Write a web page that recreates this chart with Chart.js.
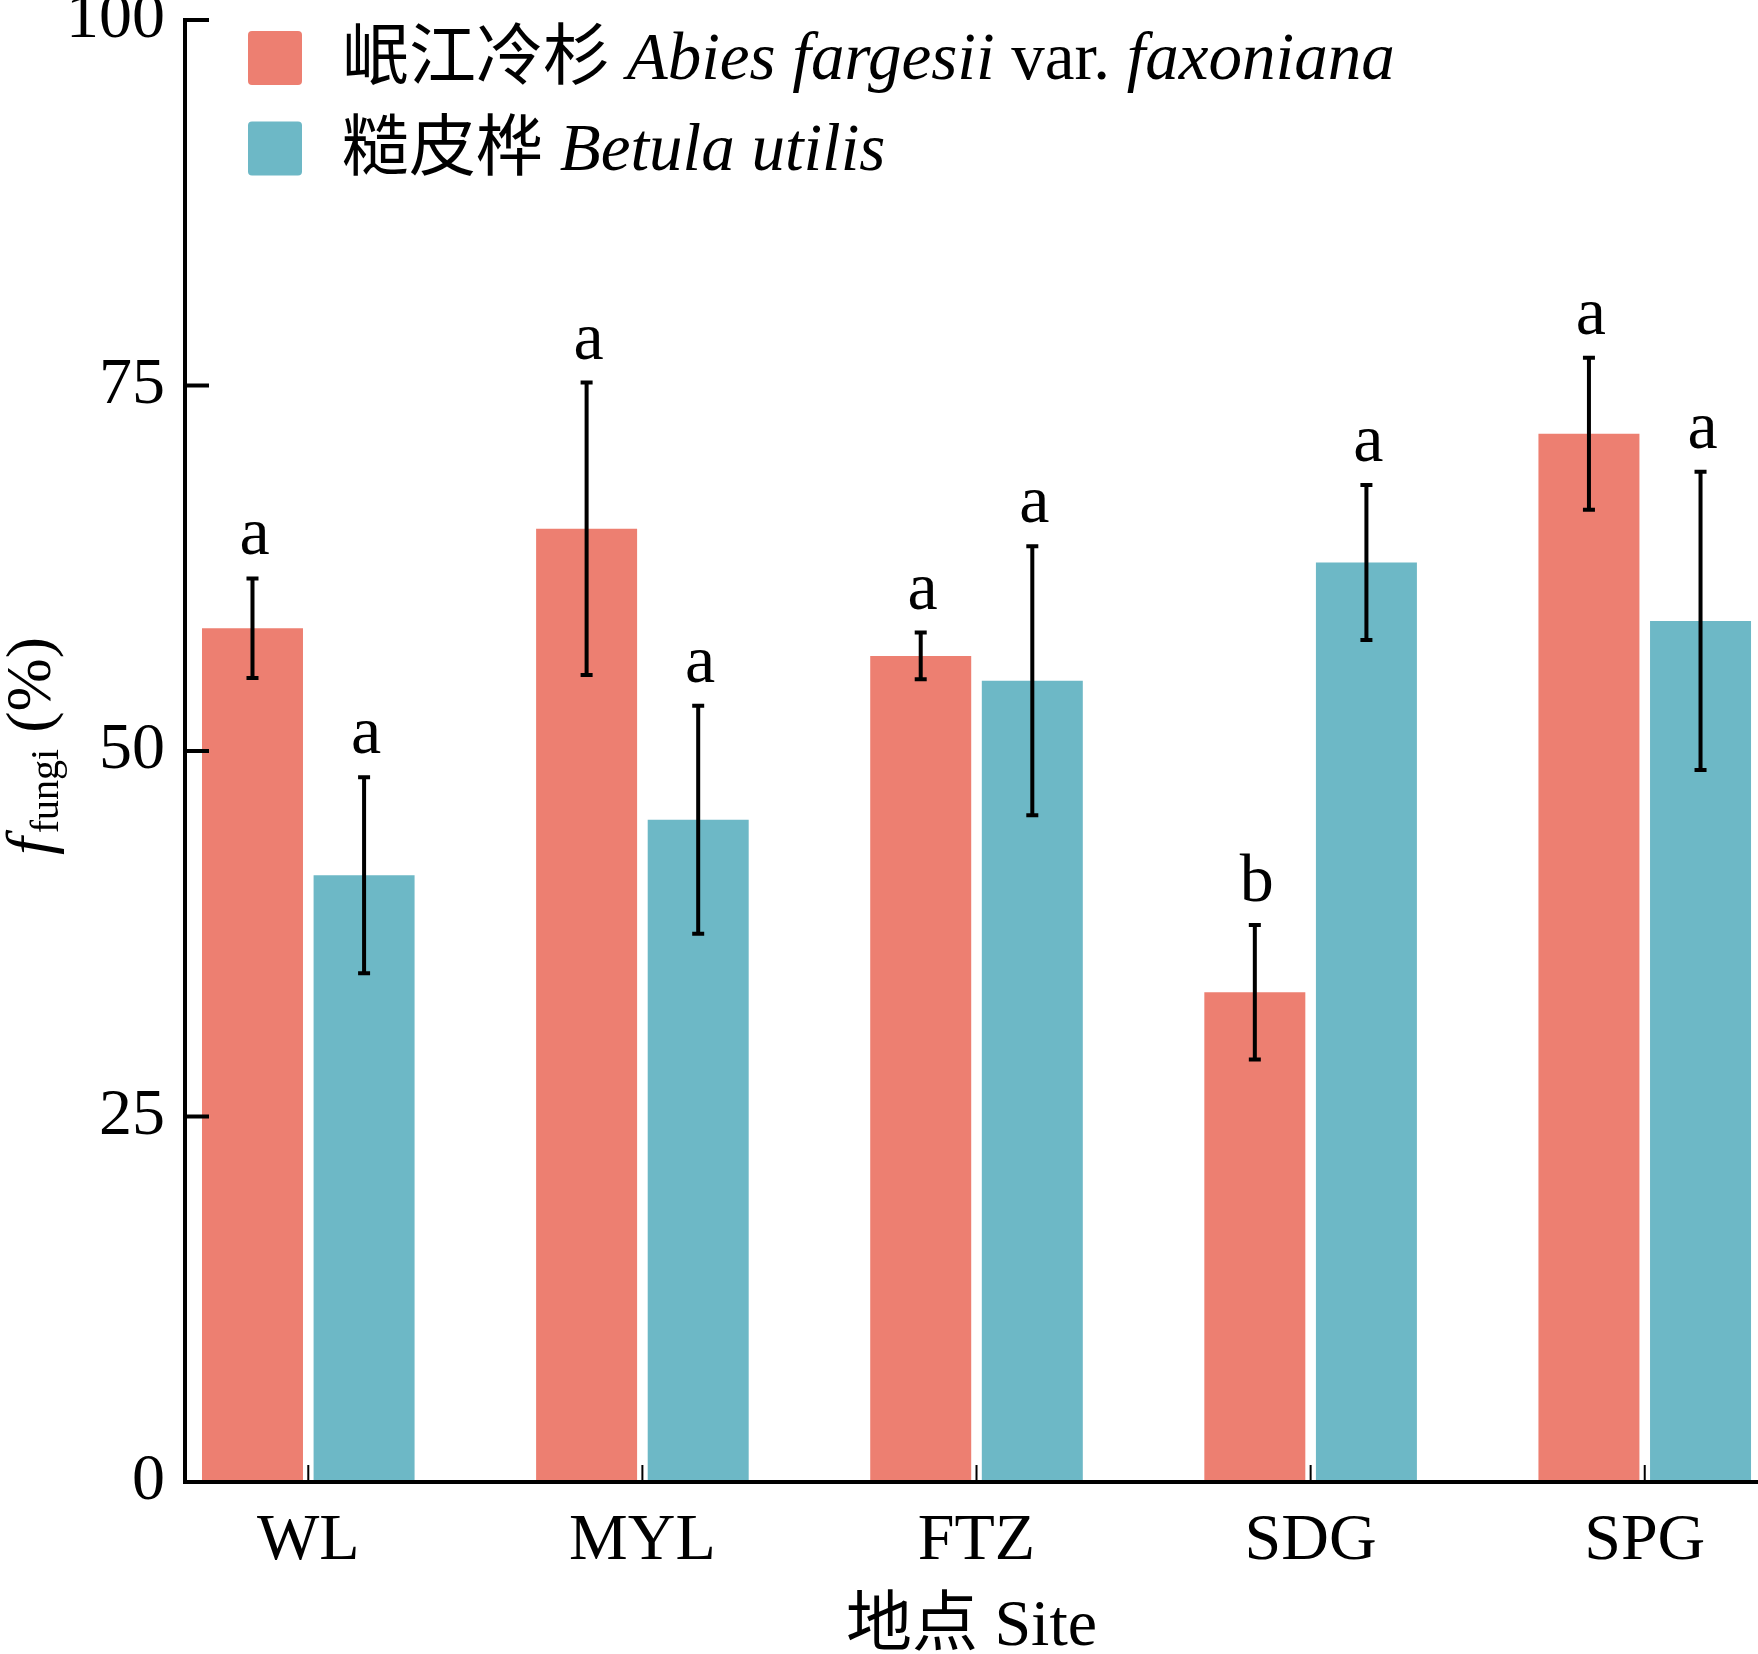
<!DOCTYPE html>
<html>
<head>
<meta charset="utf-8">
<script src="https://cdn.jsdelivr.net/npm/chart.js@4/dist/chart.umd.min.js"></script>
<style>
  html, body { margin: 0; padding: 0; background: #ffffff; }
  #wrap { width: 1758px; height: 1654px; position: relative; }
</style>
</head>
<body>
<div id="wrap"><canvas id="c"></canvas></div>
<script>
// ---------- data ----------
const sites = ['WL', 'MYL', 'FTZ', 'SDG', 'SPG'];
const abiesMean = [58.4, 65.2, 56.5, 33.5, 71.7];
const abiesErr = [3.4, 10.0, 1.6, 4.6, 5.2];
const betulaMean = [41.5, 45.3, 54.8, 62.9, 58.9];
const betulaErr = [6.7, 7.8, 9.2, 5.3, 10.2];
const abiesLetters = ['a', 'a', 'a', 'b', 'a'];
const betulaLetters = ['a', 'a', 'a', 'a', 'a'];
const yTicks = [0, 25, 50, 75, 100];
const seriesCN = ['岷江冷杉', '糙皮桦'];
const seriesLatin = [
  [['Abies fargesii', true], [' var. ', false], ['faxoniana', true]],
  [['Betula utilis', true]]
];
const xTitle = '地点 Site';
const yTitleMain = 'f';
const yTitleSub = 'fungi';
const yTitleUnit = ' (%)';

// ---------- style ----------
const FONT = '"Liberation Serif", "Times New Roman", "Noto Sans CJK SC", serif';
const COLORS = ['#ED7F71', '#6DB8C6'];
const FS = 66;

const toPoints = (arr) => arr.map((v, i) => ({ x: i, y: v }));
const means = [abiesMean, betulaMean];
const errs = [abiesErr, betulaErr];
const letters = [abiesLetters, betulaLetters];

const overlay = {
  id: 'overlay',
  afterDatasetsDraw(chart) {
    const ctx = chart.ctx;
    const xs = chart.scales.x, ys = chart.scales.y;
    ctx.save();
    // inward tick marks on y axis
    ctx.strokeStyle = '#000';
    ctx.lineWidth = 4;
    yTicks.forEach(v => {
      if (v === 0) return;
      const py = ys.getPixelForValue(v);
      ctx.beginPath();
      ctx.moveTo(xs.left, py);
      ctx.lineTo(xs.left + 24, py);
      ctx.stroke();
    });
    // inward tick marks on x axis
    ctx.lineWidth = 2;
    sites.forEach((s, i) => {
      const px = xs.getPixelForValue(i);
      ctx.beginPath();
      ctx.moveTo(px, ys.bottom);
      ctx.lineTo(px, ys.bottom - 17);
      ctx.stroke();
    });
    // error bars and letters
    for (let d = 0; d < 2; d++) {
      const meta = chart.getDatasetMeta(d);
      meta.data.forEach((bar, i) => {
        const cx = bar.x;
        const top = ys.getPixelForValue(means[d][i] + errs[d][i]);
        const bot = ys.getPixelForValue(means[d][i] - errs[d][i]);
        ctx.strokeStyle = '#000';
        ctx.lineWidth = 4;
        ctx.beginPath();
        ctx.moveTo(cx, top); ctx.lineTo(cx, bot);
        ctx.moveTo(cx - 6, top); ctx.lineTo(cx + 6, top);
        ctx.moveTo(cx - 6, bot); ctx.lineTo(cx + 6, bot);
        ctx.stroke();
        ctx.fillStyle = '#000';
        ctx.font = '68px ' + FONT;
        ctx.textAlign = 'center';
        ctx.textBaseline = 'alphabetic';
        ctx.fillText(letters[d][i], cx + 2, top - 24);
      });
    }
    ctx.restore();
  },
  afterDraw(chart) {
    const ctx = chart.ctx;
    const ys = chart.scales.y;
    ctx.save();
    // legend
    const rows = [79, 169.5];
    for (let d = 0; d < 2; d++) {
      ctx.fillStyle = COLORS[d];
      const sy = rows[d] - 48;
      ctx.beginPath();
      if (ctx.roundRect) ctx.roundRect(248, sy, 54, 54, 4); else ctx.rect(248, sy, 54, 54);
      ctx.fill();
      ctx.fillStyle = '#000';
      ctx.textAlign = 'left';
      ctx.textBaseline = 'alphabetic';
      let x = 342;
      const parts = [[seriesCN[d] + ' ', false]].concat(seriesLatin[d]);
      parts.forEach(([t, it]) => {
        ctx.font = (it ? 'italic ' : '') + '67px ' + FONT;
        ctx.fillText(t, x, rows[d]);
        x += ctx.measureText(t).width;
      });
    }
    // y title (rotated, with subscript)
    const cy = (ys.top + ys.bottom) / 2 - 5;
    ctx.translate(50, cy);
    ctx.rotate(-Math.PI / 2);
    const mainFont = 'italic 64px ' + FONT;
    const subFont = '40px ' + FONT;
    const unitFont = '64px ' + FONT;
    ctx.font = mainFont; const w1 = ctx.measureText(yTitleMain).width + 4;
    ctx.font = subFont; const w2 = ctx.measureText(yTitleSub).width;
    ctx.font = unitFont; const w3 = ctx.measureText(yTitleUnit).width;
    let x0 = -(w1 + w2 + w3) / 2;
    ctx.fillStyle = '#000';
    ctx.textAlign = 'left';
    ctx.textBaseline = 'alphabetic';
    ctx.font = mainFont; ctx.fillText(yTitleMain, x0, 0); x0 += w1;
    ctx.font = subFont; ctx.fillText(yTitleSub, x0, 8); x0 += w2;
    ctx.font = unitFont; ctx.fillText(yTitleUnit, x0, 0);
    ctx.restore();
  }
};

new Chart(document.getElementById('c'), {
  type: 'bar',
  data: {
    datasets: [
      { label: seriesCN[0], data: toPoints(abiesMean), backgroundColor: COLORS[0], borderWidth: 0 },
      { label: seriesCN[1], data: toPoints(betulaMean), backgroundColor: COLORS[1], borderWidth: 0 }
    ]
  },
  options: {
    responsive: true,
    maintainAspectRatio: false,
    animation: false,
    devicePixelRatio: 1,
    categoryPercentage: 0.668,
    barPercentage: 0.905,
    layout: { padding: { top: 20, right: 0, bottom: 0, left: 0 } },
    plugins: { legend: { display: false }, tooltip: { enabled: false } },
    scales: {
      x: {
        type: 'linear',
        offset: false,
        min: -0.369,
        max: 4.339,
        afterFit: (s) => { s.height = 172; s.paddingLeft = 0; s.paddingRight = 0; },
        grid: { display: false, drawTicks: false, offset: false },
        border: { display: true, color: '#000', width: 4, z: 1 },
        ticks: {
          stepSize: 1,
          includeBounds: false,
          autoSkip: false,
          maxRotation: 0,
          padding: 20,
          color: '#000',
          font: { family: FONT, size: FS },
          callback: (v) => (Number.isInteger(v) && sites[v] !== undefined) ? sites[v] : ''
        },
        title: {
          display: true,
          text: xTitle,
          color: '#000',
          font: { family: FONT, size: FS, lineHeight: 0.8 },
          padding: { top: 0, bottom: 0 }
        }
      },
      y: {
        min: 0,
        max: 100,
        afterFit: (s) => { s.width = 185; s.paddingTop = 0; s.paddingBottom = 0; },
        afterBuildTicks: (s) => { s.ticks = yTicks.map(v => ({ value: v })); },
        grid: { display: false, drawTicks: false },
        border: { display: true, color: '#000', width: 4, z: 1 },
        ticks: {
          padding: 20,
          color: '#000',
          font: { family: FONT, size: FS }
        }
      }
    }
  },
  plugins: [overlay]
});
</script>
</body>
</html>
